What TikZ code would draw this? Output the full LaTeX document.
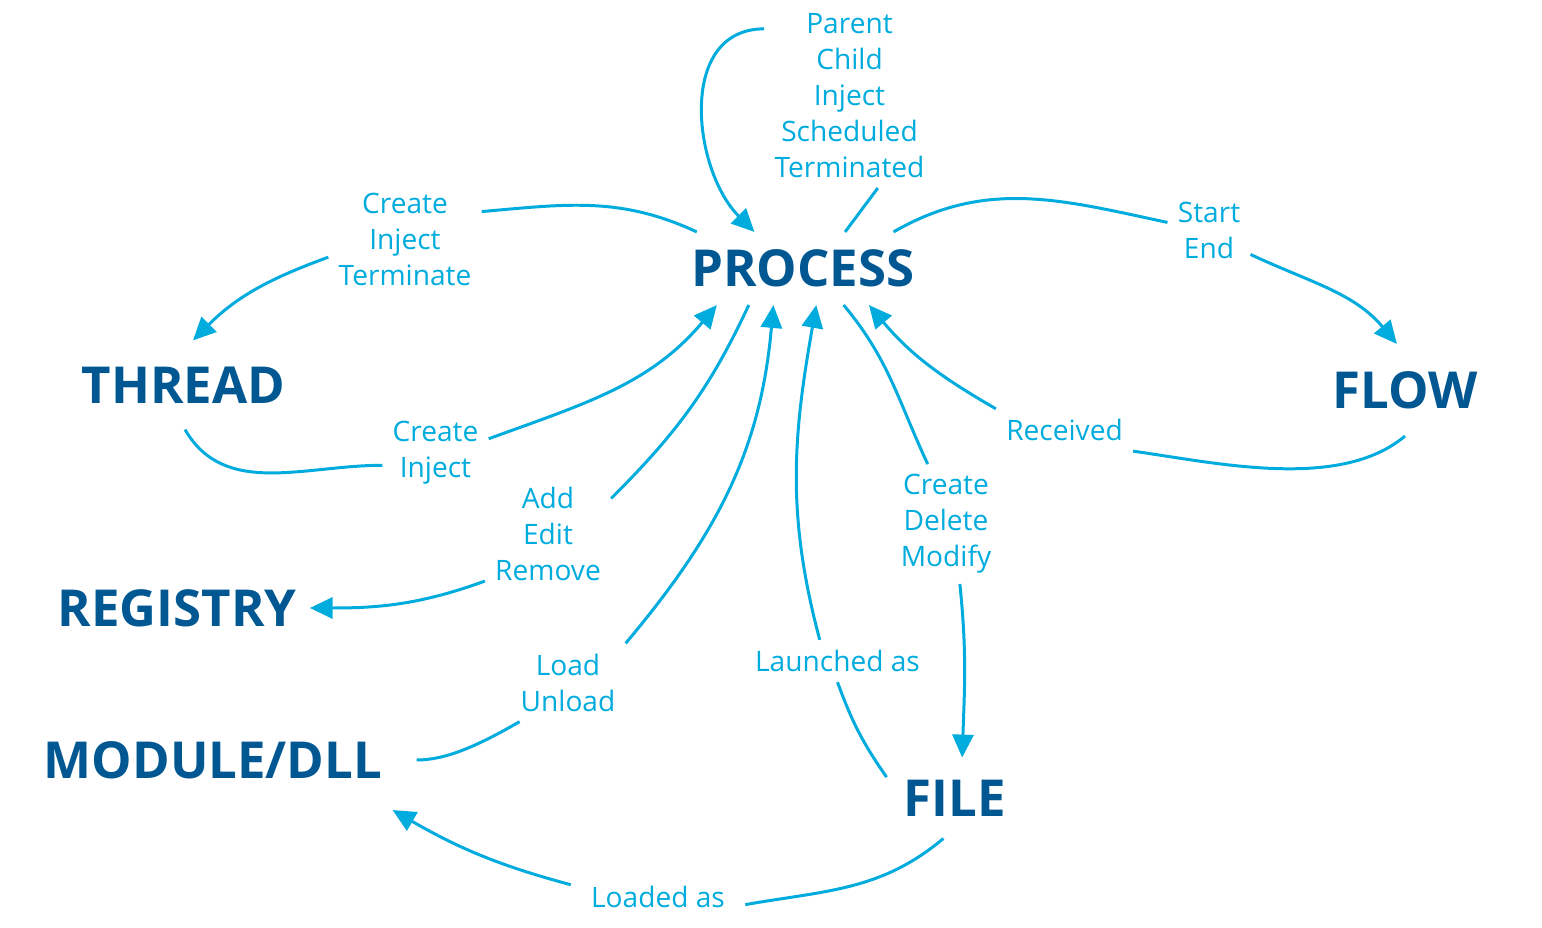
\documentclass[tikz,border=0pt]{standalone}
\usepackage{fontspec}
\setmainfont{Open Sans}
\usetikzlibrary{arrows.meta}
\definecolor{deepblue}{RGB}{0,87,145}
\definecolor{skyblue}{RGB}{0,171,221}

\begin{document}
\begin{tikzpicture}[
  x=0.02cm, y=-0.02cm,
  obj/.style={text=deepblue, font=\bfseries\fontsize{29}{34}\selectfont, inner xsep=0.2cm, inner ysep=0.55cm},
  act/.style={text=skyblue, font=\fontsize{16}{20.5}\selectfont, align=center, inner sep=0.2cm},
  link/.style={draw=skyblue, line width=1.7pt},
  arr/.style={link, -{Triangle[length=13pt, width=12pt]}}
]
  \useasboundingbox (0,0) rectangle (1542,928);

  \node[obj, inner ysep=0.35cm] (proc) at (803,268.5) {PROCESS};
  \node[obj, inner ysep=0.52cm] (thr) at (183.5,385) {THREAD};
  \node[obj, inner ysep=0.54cm] (flow) at (1405,390) {FLOW};
  \node[obj, inner xsep=0.26cm] (reg) at (177,608) {REGISTRY};
  \node[obj, inner ysep=0.62cm] (mod) at (213,760) {MODULE/DLL};
  \node[obj, inner xsep=0.34cm, inner ysep=0.44cm] (file) at (955,798) {FILE};

  \node[act] (lpar) at (849.5,95.5) {Parent\\Child\\Inject\\Scheduled\\Terminated};
  \node[act] (lthr) at (405,239.5) {Create\\Inject\\Terminate};
  \node[act] (lflw) at (1209,230.5) {Start\\End};
  \node[act] (lrcv) at (1064.5,430) {Received};
  \node[act] (lthp) at (435.5,453) {Create\\Inject};
  \node[act] (lreg) at (548,533.5) {Add\\Edit\\Remove};
  \node[act] (ldll) at (568,682.5) {Load\\Unload};
  \node[act] (llau) at (837.5,661) {Launched as};
  \node[act] (lfil) at (946,524) {Create\\Delete\\Modify};
  \node[act, inner xsep=0.4cm] (lmod) at (658,897) {Loaded as};

  \draw[link] (proc.41) -- (lpar.-73);
  \draw[arr] (lpar.142) to[out=180, in=135, looseness=1.1] (proc.143);
  \draw[link] (proc.161) to[out=155, in=5] (lthr.20);
  \draw[arr] (lthr.193) to[out=200, in=45] (thr.78);
  \draw[link] (proc.22) to[out=30, in=168] (lflw.169);
  \draw[arr] (lflw.-30) to[out=-25, in=130] (flow.100);
  \draw[link] (flow.south) to[out=-140, in=-8, looseness=0.8] (lrcv.south east);
  \draw[arr] (lrcv.north west) to[out=150, in=-50] (proc.-29);
  \draw[link] (thr.-88) to[out=-60, in=180] (lthp.193);
  \draw[arr] (lthp.15) to[out=20, in=-130] (proc.-157);
  \draw[link] (proc.-146) to[out=-115, in=45] (lreg.29);
  \draw[arr] (lreg.217) to[out=200, in=0] (reg.east);
  \draw[link, shorten <=0.48cm] (mod.east) to[out=0, in=-150] (ldll.219);
  \draw[arr] (ldll.north east) to[out=50, in=-95] (proc.-129);
  \draw[link] (file.163) to[out=125, in=-70] (llau.south);
  \draw[arr] (llau.130) to[out=105, in=-100] (proc.-70);
  \draw[link] (proc.-42) to[out=-50, in=115] (lfil.107);
  \draw[arr] (lfil.-77) to[out=-84, in=88] (file.80);
  \draw[link] (file.-106) to[out=-140, in=10] (lmod.-5);
  \draw[arr] (lmod.172) to[out=165, in=-30] (mod.south east);
\end{tikzpicture}
\end{document}
